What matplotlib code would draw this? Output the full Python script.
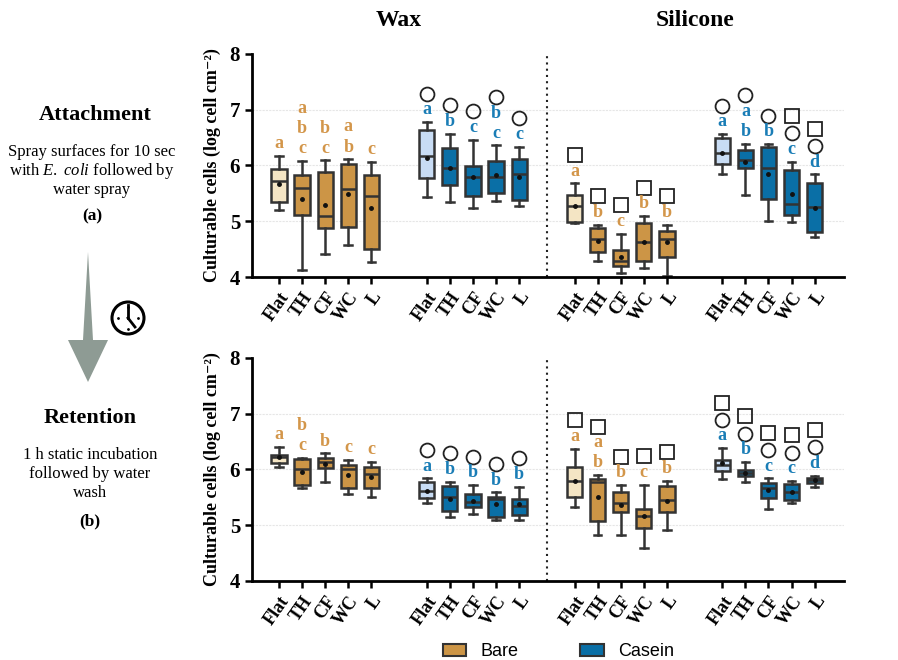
import numpy as np
import matplotlib
matplotlib.use('Agg')
import matplotlib.pyplot as plt
from matplotlib.patches import Patch, Polygon, Circle

plt.rcParams['font.family'] = ['Liberation Serif', 'DejaVu Serif']
plt.rcParams['mathtext.fontset'] = 'custom'
plt.rcParams['mathtext.it'] = 'Liberation Serif:italic'
plt.rcParams['mathtext.rm'] = 'Liberation Serif'

# order: Wax Bare, Wax Casein, Silicone Bare, Silicone Casein (5 surfaces each)
surfaces = ['Flat', 'TH', 'CF', 'WC', 'L']

# (a) Attachment
att_lo = [5.21, 4.13, 4.42, 4.57, 4.27, 5.44, 5.35, 5.24, 5.37, 5.28,
          4.96, 4.28, 4.08, 4.16, 4.02, 5.85, 5.47, 5.01, 4.98, 4.71]
att_q1 = [5.34, 5.11, 4.87, 4.90, 4.50, 5.77, 5.65, 5.46, 5.50, 5.38,
          4.98, 4.44, 4.20, 4.29, 4.35, 6.02, 5.96, 5.39, 5.11, 4.81]
att_med = [5.73, 5.59, 5.10, 5.57, 5.45, 6.17, 5.96, 5.80, 5.80, 5.84,
           5.28, 4.68, 4.28, 4.62, 4.69, 6.23, 6.09, 5.95, 5.31, 5.25]
att_q3 = [5.94, 5.83, 5.89, 6.03, 5.83, 6.64, 6.31, 5.99, 6.08, 6.12,
          5.47, 4.87, 4.49, 4.96, 4.83, 6.49, 6.28, 6.33, 5.92, 5.68]
att_hi = [6.17, 6.08, 6.09, 6.11, 6.07, 6.78, 6.57, 6.46, 6.36, 6.34,
          5.68, 4.94, 4.78, 5.09, 4.94, 6.56, 6.39, 6.38, 6.07, 5.84]
att_mean = [5.67, 5.40, 5.30, 5.49, 5.24, 6.14, 5.96, 5.80, 5.83, 5.80,
            5.27, 4.64, 4.35, 4.63, 4.62, 6.23, 6.06, 5.85, 5.49, 5.23]
att_letters = ['a', 'abc', 'bc', 'ab', 'c', 'a', 'b', 'c', 'bc', 'c',
               'a', 'b', 'c', 'b', 'b', 'a', 'ab', 'b', 'c', 'd']
att_marks = ['', '', '', '', '', 'o', 'o', 'o', 'o', 'o',
             's', 's', 's', 's', 's', 'o', 'o', 'o', 'os', 'os']

# (b) Retention
ret_lo = [6.05, 5.66, 5.78, 5.56, 5.51, 5.40, 5.14, 5.20, 5.10, 5.10,
          5.32, 4.82, 4.83, 4.59, 4.92, 5.83, 5.78, 5.29, 5.39, 5.68]
ret_q1 = [6.11, 5.73, 6.02, 5.67, 5.67, 5.49, 5.25, 5.32, 5.14, 5.19,
          5.51, 5.07, 5.23, 4.95, 5.23, 5.98, 5.88, 5.48, 5.46, 5.76]
ret_med = [6.22, 6.01, 6.14, 6.00, 5.92, 5.62, 5.50, 5.41, 5.47, 5.35,
           5.80, 5.78, 5.39, 5.16, 5.46, 6.08, 5.93, 5.67, 5.59, 5.81]
ret_q3 = [6.26, 6.19, 6.20, 6.08, 6.05, 5.78, 5.71, 5.56, 5.51, 5.47,
          6.05, 5.83, 5.60, 5.29, 5.71, 6.17, 5.99, 5.75, 5.74, 5.85]
ret_hi = [6.41, 6.21, 6.29, 6.17, 6.14, 5.84, 5.78, 5.72, 5.59, 5.69,
          6.37, 5.90, 5.72, 5.73, 5.80, 6.38, 6.13, 5.84, 5.79, 5.89]
ret_mean = [6.22, 5.96, 6.10, 5.90, 5.87, 5.62, 5.47, 5.44, 5.38, 5.38,
            5.80, 5.50, 5.37, 5.16, 5.43, 6.11, 5.93, 5.63, 5.60, 5.81]
ret_letters = ['a', 'bc', 'b', 'c', 'c', 'a', 'b', 'b', 'b', 'b',
               'a', 'ab', 'b', 'c', 'b', 'a', 'b', 'c', 'c', 'd']
ret_marks = ['', '', '', '', '', 'o', 'o', 'o', 'o', 'o',
             's', 's', 's', 's', 's', 'os', 'os', 'os', 'os', 'os']

# colours
bare_light = '#F4E5C4'
bare_col = '#CC9546'
cas_light = '#C8DCF4'
cas_col = '#0A6FA6'
bare_txt = '#D3964A'
cas_txt = '#1A7DB6'
edge = '#333333'

group_off = [0, 6.4, 12.8, 19.2]
pos = np.concatenate([g + np.arange(5) for g in group_off])
is_casein = [False] * 5 + [True] * 5 + [False] * 5 + [True] * 5


def draw_panel(ax, lo, q1, med, q3, hi, mean, letters, marks):
    stats = []
    for i in range(20):
        stats.append(dict(whislo=lo[i], q1=q1[i], med=med[i], q3=q3[i],
                          whishi=hi[i], mean=mean[i], fliers=[]))
    bp = ax.bxp(stats, positions=pos, widths=0.66, patch_artist=True,
                showmeans=True, showfliers=False,
                boxprops=dict(edgecolor=edge, linewidth=1.8),
                medianprops=dict(color=edge, linewidth=1.8),
                whiskerprops=dict(color=edge, linewidth=1.8),
                capprops=dict(color=edge, linewidth=1.8),
                meanprops=dict(marker='o', markersize=2.5, markerfacecolor='#111111',
                               markeredgecolor='#111111'))
    for i, b in enumerate(bp['boxes']):
        first = (i % 5 == 0)
        if is_casein[i]:
            b.set_facecolor(cas_light if first else cas_col)
        else:
            b.set_facecolor(bare_light if first else bare_col)
    for i in range(20):
        col = cas_txt if is_casein[i] else bare_txt
        y = hi[i] + 0.22
        for ch in letters[i][::-1]:
            ax.text(pos[i], y, ch, ha='center', va='center', fontsize=13,
                    fontweight='bold', color=col)
            y += 0.36
        y = y - 0.36 + 0.29
        for m in marks[i]:
            ax.plot(pos[i], y, marker=m, markersize=10 if m == 'o' else 9.5,
                    markerfacecolor='none', markeredgecolor='#222222',
                    markeredgewidth=1.3, linestyle='none')
            y += 0.31

    ax.set_xlim(-1.17, 24.46)
    ax.set_ylim(4, 8)
    ax.set_yticks([4, 5, 6, 7, 8])
    ax.set_xticks(pos)
    ax.set_xticklabels(surfaces * 4, rotation=55, ha='right',
                       rotation_mode='anchor', fontsize=13, fontweight='bold')
    for lab in ax.get_yticklabels():
        lab.set_fontweight('bold')
        lab.set_fontsize(15)
    ax.tick_params(axis='both', direction='out', length=5, width=1.8)
    for s in ['top', 'right']:
        ax.spines[s].set_visible(False)
    for s in ['left', 'bottom']:
        ax.spines[s].set_linewidth(2)
    for yv in [5, 6, 7]:
        ax.axhline(yv, color='#e6e6e6', linewidth=0.8, linestyle=(0, (2, 1)), zorder=0)
    ax.axvline(11.6, color='#222222', linewidth=1.5, linestyle=(0, (1, 2)))
    ax.set_ylabel('Culturable cells (log cell cm⁻²)', fontsize=13,
                  fontweight='bold', labelpad=6)


fig = plt.figure(figsize=(8.98, 6.6), dpi=100)
ax1 = fig.add_axes([0.2806, 0.5803, 0.659, 0.338])
ax2 = fig.add_axes([0.2806, 0.1197, 0.659, 0.338])
draw_panel(ax1, att_lo, att_q1, att_med, att_q3, att_hi, att_mean, att_letters, att_marks)
draw_panel(ax2, ret_lo, ret_q1, ret_med, ret_q3, ret_hi, ret_mean, ret_letters, ret_marks)

ax1.text(np.mean(pos[:10]), 1.15, 'Wax', transform=ax1.get_xaxis_transform(),
         ha='center', va='center', fontsize=17, fontweight='bold')
ax1.text(np.mean(pos[10:]), 1.15, 'Silicone', transform=ax1.get_xaxis_transform(),
         ha='center', va='center', fontsize=17, fontweight='bold')

# left side description (pixel coordinates)
axl = fig.add_axes([0, 0, 206 / 898, 1])
axl.set_xlim(0, 206)
axl.set_ylim(660, 0)
axl.axis('off')
axl.text(95, 115, 'Attachment', ha='center', va='center', fontsize=16, fontweight='bold')
axl.text(92, 152, 'Spray surfaces for 10 sec', ha='center', va='center', fontsize=12)
axl.text(92, 171, r'with $E.$ $coli$ followed by', ha='center', va='center', fontsize=12)
axl.text(92, 190, 'water spray', ha='center', va='center', fontsize=12)
axl.text(92, 216, '(a)', ha='center', va='center', fontsize=12.5, fontweight='bold')
axl.text(90, 418, 'Retention', ha='center', va='center', fontsize=16, fontweight='bold')
axl.text(90, 455, '1 h static incubation', ha='center', va='center', fontsize=12)
axl.text(90, 474, 'followed by water', ha='center', va='center', fontsize=12)
axl.text(90, 493, 'wash', ha='center', va='center', fontsize=12)
axl.text(90, 521, '(b)', ha='center', va='center', fontsize=12.5, fontweight='bold')
axl.add_patch(Polygon([(88, 252), (93, 340), (108, 340), (88, 382), (68, 340), (83, 340)],
                      closed=True, facecolor='#8E9B94', edgecolor='none'))
axl.add_patch(Circle((128, 318), 16, facecolor='none', edgecolor='black', linewidth=2.2))
axl.plot([128, 128], [318, 305], color='black', linewidth=2)
axl.plot([128, 135], [318, 327], color='black', linewidth=2)
axl.plot([128, 128, 118, 138], [307, 329, 318, 318], 'k.', markersize=2)

handles = [Patch(facecolor=bare_col, edgecolor=edge, linewidth=1.5, label='Bare'),
           Patch(facecolor=cas_col, edgecolor=edge, linewidth=1.5, label='Casein')]
fig.legend(handles=handles, loc='lower center', bbox_to_anchor=(0.622, -0.025), ncol=2,
           frameon=False, prop={'family': 'Liberation Sans', 'size': 13},
           handlelength=1.3, handleheight=0.7, columnspacing=3.4)

fig.savefig('out.png', dpi=100)
